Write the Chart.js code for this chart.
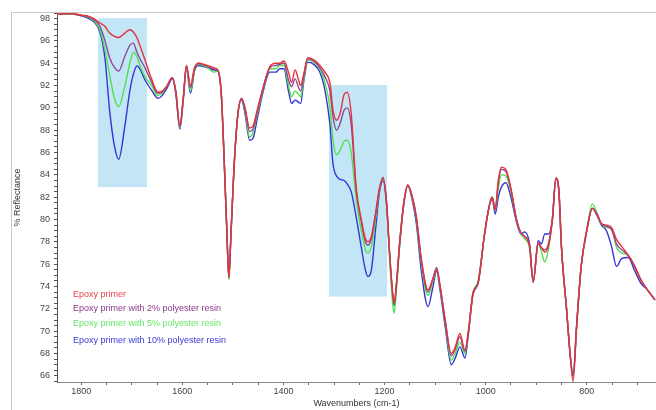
<!DOCTYPE html>
<html>
<head>
<meta charset="utf-8">
<script src="https://cdn.jsdelivr.net/npm/chart.js@4.4.1/dist/chart.umd.min.js"></script>
<style>
  html, body { margin: 0; padding: 0; background: #fff; }
  #box { position: relative; width: 656px; height: 410px; }
</style>
</head>
<body>
<div id="box"><canvas id="grafico" width="656" height="410"></canvas></div>
<script>
// ==========================
// DADOS (lidos do espectro)
// ==========================
const wavenumbers = [
  1848, 1820, 1800, 1785, 1775, 1763, 1753, 1744, 1734, 1726, 1714, 1704, 1697, 1690, 1684, 1674,
  1661, 1648, 1640, 1630, 1620, 1613, 1605, 1598, 1592, 1584, 1576, 1568, 1550, 1538, 1530, 1523,
  1517, 1512, 1508, 1504, 1498, 1490, 1483, 1476, 1467, 1460, 1452, 1441, 1427, 1415, 1407, 1399,
  1390, 1384, 1377, 1370, 1366, 1360, 1352, 1340, 1328, 1318, 1308, 1302, 1295, 1288, 1280, 1274,
  1266, 1256, 1246, 1238, 1233, 1226, 1218, 1210, 1203, 1196, 1190, 1184, 1181, 1176, 1170, 1162,
  1154, 1145, 1137, 1127, 1114, 1105, 1097, 1090, 1080, 1068, 1060, 1051, 1041, 1034, 1025, 1015,
  1002, 992, 987, 981, 975, 969, 960, 950, 939, 930, 923, 913, 906, 896, 890, 883,
  876, 868, 861, 855, 850, 840, 833, 827, 820, 811, 800, 789, 780, 771, 761, 751,
  741, 731, 718, 705, 693, 680, 665
];

const epoxy = [
  98.4, 98.45, 98.3, 98.2, 98.0, 97.6, 97.3, 96.7, 96.4, 96.3, 96.7, 97.0, 96.8, 96.3, 95.6, 94.3,
  92.6, 91.4, 91.5, 92.0, 92.7, 91.5, 88.4, 91.0, 93.8, 92.0, 93.6, 94.0, 93.8, 93.6, 93.4, 91.3,
  85.0, 79.0, 74.8, 78.5, 84.5, 89.5, 90.85, 90.0, 88.2, 88.4, 89.8, 91.7, 93.7, 94.0, 94.0, 94.2,
  93.2, 92.3, 93.4, 92.5, 92.0, 93.0, 94.5, 94.3, 93.8, 93.2, 92.2, 89.8, 88.9, 89.5, 91.2, 91.4,
  89.5, 82.8, 80.0, 78.3, 78.0, 78.5, 80.5, 82.8, 83.7, 81.5, 77.0, 73.5, 72.5, 74.5, 78.0, 81.5,
  83.1, 82.0, 80.2, 76.4, 73.7, 74.6, 75.5, 74.0, 71.0, 68.0, 68.6, 69.8, 68.3, 70.0, 73.4, 74.3,
  78.75, 81.4, 82.0, 80.9, 83.5, 84.7, 84.5, 82.8, 80.0, 78.8, 78.5, 77.6, 74.4, 77.9, 77.5, 77.1,
  77.6, 80.0, 83.7, 82.5, 77.5, 72.0, 68.0, 65.5, 70.5, 75.8, 79.0, 81.0, 80.5, 79.65, 79.5, 79.3,
  78.2, 77.6, 76.8, 75.8, 74.6, 73.7, 72.8
];

const epoxy2 = [
  98.4, 98.45, 98.3, 98.15, 97.9, 97.3, 96.0, 94.5, 93.6, 93.3, 94.6, 95.6, 95.8, 95.0, 94.4, 93.6,
  92.3, 91.3, 91.4, 92.0, 92.7, 91.5, 88.3, 91.0, 93.8, 91.8, 93.5, 94.0, 93.7, 93.5, 93.4, 91.3,
  85.0, 79.0, 74.8, 78.5, 84.5, 89.5, 90.85, 89.9, 87.9, 88.1, 89.6, 91.6, 93.6, 93.8, 93.9, 94.0,
  92.5, 91.9, 92.6, 91.8, 91.5, 92.8, 94.4, 94.2, 93.6, 92.8, 91.5, 89.2, 88.0, 88.6, 89.8, 90.0,
  88.5, 82.6, 79.8, 78.0, 77.7, 78.3, 80.4, 82.8, 83.8, 81.5, 77.0, 73.3, 72.4, 74.5, 78.0, 81.5,
  83.1, 82.0, 80.2, 76.3, 73.5, 74.6, 75.7, 74.0, 70.9, 67.8, 68.4, 69.5, 68.2, 70.0, 73.4, 74.3,
  78.75, 81.4, 82.0, 80.9, 83.3, 84.5, 84.3, 82.7, 80.0, 78.8, 78.5, 77.6, 74.4, 77.9, 77.5, 77.3,
  77.8, 80.0, 83.7, 82.5, 77.5, 72.0, 68.0, 66.0, 70.5, 75.8, 79.0, 81.0, 80.5, 79.6, 79.4, 79.1,
  77.8, 77.3, 76.8, 75.8, 74.6, 73.7, 72.8
];

const epoxy5 = [
  98.4, 98.4, 98.3, 98.1, 97.8, 97.0, 95.2, 93.0, 90.8, 90.1, 91.9, 94.0, 95.0, 94.6, 93.8, 92.8,
  92.0, 91.1, 91.3, 92.0, 92.7, 91.4, 88.2, 90.9, 93.7, 91.5, 93.4, 93.9, 93.6, 93.2, 93.3, 91.2,
  85.0, 79.0, 74.6, 78.5, 84.5, 89.5, 90.8, 89.8, 87.4, 87.8, 89.4, 91.5, 93.5, 93.5, 93.8, 93.8,
  92.0, 91.0, 91.5, 91.2, 91.0, 92.5, 94.3, 94.1, 93.5, 92.3, 90.0, 87.1, 85.8, 86.2, 87.0, 87.1,
  86.0, 81.8, 79.0, 77.3, 77.0, 77.6, 80.0, 82.7, 83.6, 81.4, 76.5, 72.5, 71.6, 74.0, 77.8, 81.4,
  83.0, 81.9, 80.0, 76.0, 73.2, 74.4, 75.5, 73.9, 70.8, 67.4, 68.0, 69.0, 68.0, 70.0, 73.5, 74.5,
  78.75, 81.4, 82.0, 80.8, 82.8, 84.0, 83.9, 82.5, 80.0, 78.7, 78.3, 77.4, 74.4, 77.8, 77.2, 76.2,
  77.3, 80.0, 83.7, 82.5, 77.5, 72.0, 68.0, 66.0, 70.5, 75.8, 79.0, 81.4, 80.6, 79.6, 79.3, 79.2,
  77.5, 77.0, 76.8, 75.8, 74.6, 73.7, 72.8
];

const epoxy10 = [
  98.4, 98.4, 98.25, 98.0, 97.7, 96.8, 94.4, 89.8, 86.5, 85.4, 88.3, 91.5, 93.0, 93.75, 93.5, 92.5,
  91.6, 90.85, 91.1, 91.8, 92.6, 91.3, 88.1, 90.8, 93.6, 91.3, 93.3, 93.8, 93.6, 93.4, 93.3, 91.2,
  85.0, 79.0, 74.8, 78.5, 84.5, 89.5, 90.7, 89.5, 87.1, 87.3, 89.0, 91.3, 93.2, 93.2, 93.5, 93.5,
  91.5, 90.4, 90.7, 90.5, 90.4, 92.3, 94.1, 93.9, 93.2, 91.6, 88.5, 85.0, 83.9, 83.6, 83.5, 83.2,
  82.5, 80.2, 77.5, 75.5, 74.9, 75.5, 79.0, 82.5, 83.5, 81.3, 76.8, 73.2, 72.3, 74.4, 77.8, 81.3,
  83.0, 81.7, 79.6, 75.3, 72.2, 73.8, 75.4, 73.6, 70.4, 67.0, 67.6, 68.6, 67.6, 69.8, 73.3, 74.3,
  78.75, 81.4, 81.8, 80.5, 82.0, 82.9, 83.3, 82.0, 79.8, 78.7, 78.9, 77.8, 74.4, 78.1, 77.8, 78.7,
  78.7, 80.0, 83.7, 82.5, 77.5, 72.0, 68.0, 66.0, 70.5, 75.8, 79.0, 81.0, 80.4, 79.5, 79.0, 77.6,
  75.8, 76.5, 76.6, 75.4, 74.3, 73.7, 72.8
];

const nomesSeries = [
  "Epoxy primer",
  "Epoxy primer with 2% polyester resin",
  "Epoxy primer with 5% polyester resin",
  "Epoxy primer with 10% polyester resin",
];

// faixas destacadas em azul (cm-1 e %R)
const faixasDestaque = [
  { de: 1767, ate: 1670, min: 82.9, max: 98.05 },
  { de: 1310, ate: 1195, min: 73.1, max: 92.05 },
];

// ==========================
// ESTILO
// ==========================
const FONTE = '"Liberation Sans", Arial, sans-serif';
const cores = ["#e8303a", "#8c4a98", "#4fe04f", "#3434d6"];
const coresTexto = ["#e8424c", "#8a3a8a", "#66e866", "#3a3ad8"];

const pontos = (valores) => wavenumbers.map((w, i) => ({ x: w, y: valores[i] }));

const datasets = [epoxy, epoxy2, epoxy5, epoxy10].map((valores, i) => ({
  label: nomesSeries[i],
  data: pontos(valores),
  borderColor: cores[i],
  borderWidth: 1.4,
  pointRadius: 0,
  cubicInterpolationMode: "monotone",
  fill: false,
}));

// fundo branco + moldura cinza
const pluginFundo = {
  id: "fundo",
  beforeDraw(chart) {
    const ctx = chart.ctx;
    ctx.save();
    ctx.fillStyle = "#fff";
    ctx.fillRect(0, 0, chart.width, chart.height);
    ctx.strokeStyle = "#c8c8c8";
    ctx.lineWidth = 1;
    ctx.strokeRect(11.5, 12.5, chart.width + 20, chart.height + 20);
    ctx.restore();
  },
};

// retângulos azuis atrás das curvas
const pluginFaixas = {
  id: "faixas",
  beforeDatasetsDraw(chart) {
    const { ctx, scales } = chart;
    ctx.save();
    ctx.fillStyle = "#c3e6f6";
    faixasDestaque.forEach((f) => {
      const x1 = scales.x.getPixelForValue(f.de);
      const x2 = scales.x.getPixelForValue(f.ate);
      const y1 = scales.y.getPixelForValue(f.max);
      const y2 = scales.y.getPixelForValue(f.min);
      ctx.fillRect(Math.min(x1, x2), y1, Math.abs(x2 - x1), y2 - y1);
    });
    ctx.restore();
  },
};

// legenda só com texto colorido
const pluginLegenda = {
  id: "legendaTexto",
  afterDraw(chart) {
    const ctx = chart.ctx;
    const linhasY = [295, 308.5, 323.5, 340.5];
    ctx.save();
    ctx.font = "9px " + FONTE;
    ctx.textBaseline = "middle";
    ctx.textAlign = "left";
    nomesSeries.forEach((nome, i) => {
      ctx.fillStyle = coresTexto[i];
      ctx.fillText(nome, 73, linhasY[i]);
    });
    ctx.restore();
  },
};

new Chart(document.getElementById("grafico"), {
  type: "line",
  data: { datasets },
  options: {
    responsive: false,
    animation: false,
    layout: { padding: { top: 13, right: 0, bottom: 0, left: 0 } },
    plugins: {
      legend: { display: false },
      tooltip: { enabled: false },
    },
    scales: {
      x: {
        type: "linear",
        reverse: true,
        min: 663,
        max: 1848,
        afterFit(scale) {
          scale.height = 28;
        },
        border: { color: "#8a8a8a", width: 1 },
        grid: { drawOnChartArea: false, drawTicks: true, tickLength: 3, color: "#666" },
        ticks: {
          stepSize: 50,
          autoSkip: false,
          maxRotation: 0,
          includeBounds: false,
          padding: 1,
          color: "#444",
          font: { family: FONTE, size: 9 },
          callback: (v) => (v % 200 === 0 ? String(v) : ""),
        },
        title: {
          display: true,
          text: "Wavenumbers (cm-1)",
          color: "#333",
          font: { family: FONTE, size: 9 },
          padding: { top: 0, bottom: 1 },
        },
      },
      y: {
        min: 65.45,
        max: 98.5,
        afterFit(scale) {
          scale.width = 57;
        },
        border: { color: "#555", width: 1 },
        grid: { drawOnChartArea: false, drawTicks: true, tickLength: 3, color: "#555" },
        ticks: {
          stepSize: 0.5,
          autoSkip: false,
          includeBounds: false,
          padding: 4,
          color: "#444",
          font: { family: FONTE, size: 9 },
          callback: (v) => (Math.abs(v % 2) < 1e-6 ? String(v) : ""),
        },
        title: {
          display: true,
          text: "% Reflectance",
          color: "#333",
          font: { family: FONTE, size: 9 },
          padding: { top: 12.5, bottom: 0 },
        },
      },
    },
  },
  plugins: [pluginFundo, pluginFaixas, pluginLegenda],
});
</script>
</body>
</html>
